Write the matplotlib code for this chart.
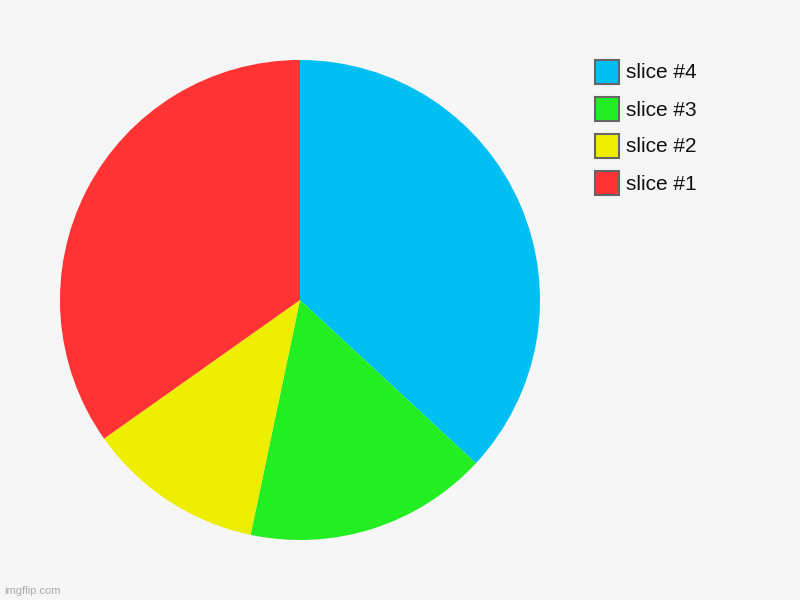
import matplotlib.pyplot as plt
from matplotlib.patches import Rectangle

# data, in drawing order (clockwise from 12 o'clock)
labels = ["slice #4", "slice #3", "slice #2", "slice #1"]
values = [36.9, 16.4, 11.9, 34.8]
colors = ["#00bff3", "#22ee22", "#eeee00", "#ff3333"]

W, H = 800, 600
bg = "#f6f6f6"

fig = plt.figure(figsize=(W / 100, H / 100), dpi=100)
fig.patch.set_facecolor(bg)

# pie: centre (300, 300), radius 240 px
ax = fig.add_axes([60 / W, 60 / H, 480 / W, 480 / H])
ax.pie(values, colors=colors, startangle=90, counterclock=False,
       radius=1, wedgeprops=dict(linewidth=0))
ax.set_xlim(-1, 1)
ax.set_ylim(-1, 1)
ax.set_aspect("equal")
ax.axis("off")

# legend drawn by hand in pixel positions
for i, (lab, col) in enumerate(zip(labels, colors)):
    cy = 72 + 37 * i
    fig.patches.append(Rectangle(((595) / W, 1 - (cy + 12) / H), 24 / W, 24 / H,
                                 transform=fig.transFigure, facecolor=col,
                                 edgecolor="#666666", linewidth=1.5))
    fig.text(626 / W, 1 - (cy + 1) / H, lab, fontsize=15, family="Liberation Sans",
             va="center", ha="left", color="#111111")

fig.text(4 / W, 1 - 591 / H, "imgflip.com", fontsize=8, family="Liberation Sans",
         va="center", ha="left", color="#aaaaaa")

fig.savefig("out.png", dpi=100, facecolor=bg)
